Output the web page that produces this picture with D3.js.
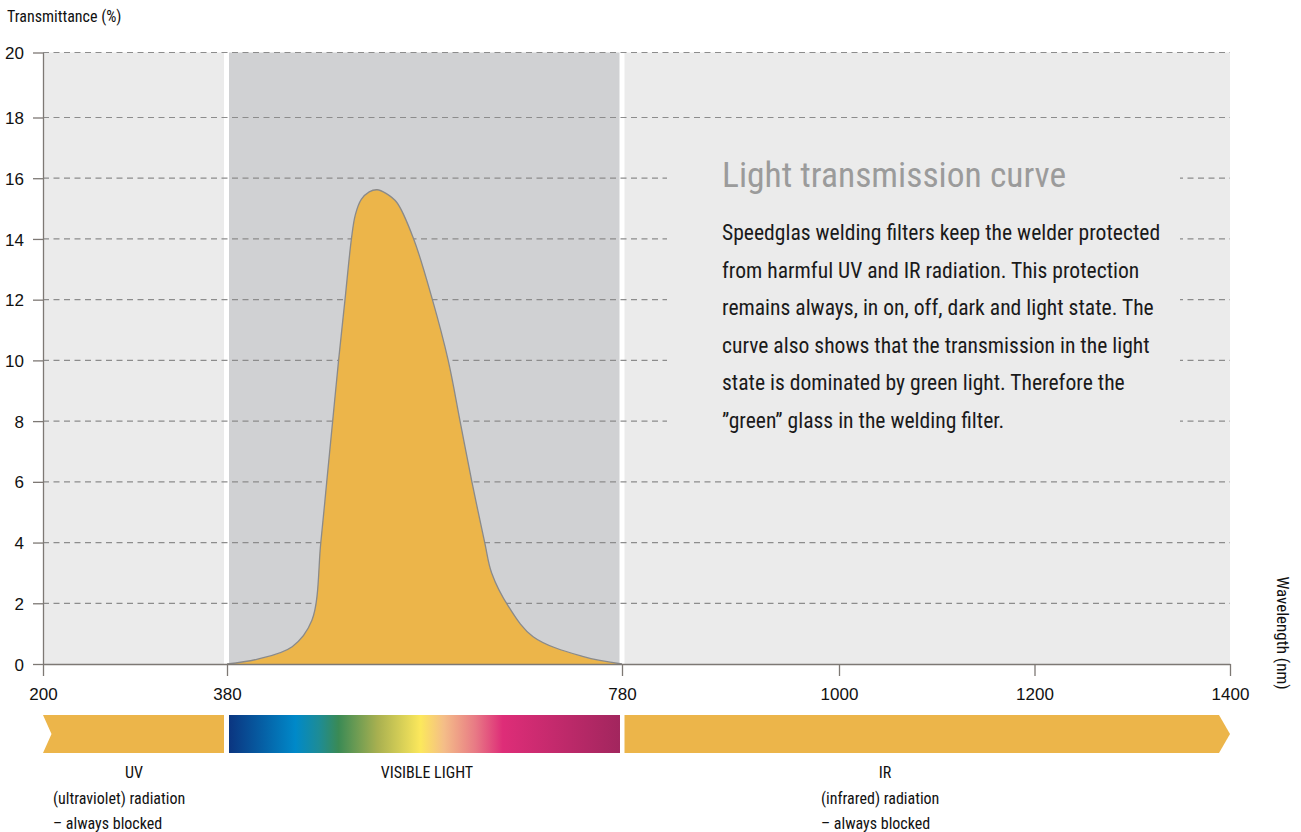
<!DOCTYPE html>
<html>
<head>
<meta charset="utf-8">
<script src="https://cdn.jsdelivr.net/npm/d3@7"></script>
<style>
  body { margin: 0; background: #fff; }
  svg { display: block; font-family: "Liberation Sans Narrow", "Roboto Condensed", "Arial Narrow", sans-serif; }
</style>
</head>
<body>
<svg id="chart" width="1301" height="832"></svg>
<script>
// data
const wavelengths = [380, 411, 446, 466, 475, 481, 487, 493, 499.5, 506, 510, 516, 524, 532, 541, 552, 569, 588, 604, 616, 628, 641, 648, 665, 690, 741, 780];
const transmittance = [0, 0.16, 0.57, 1.44, 4, 6, 8, 10, 12, 14, 14.8, 15.3, 15.55, 15.62, 15.5, 15.2, 14, 12, 10, 8, 6, 4, 3.0, 1.9, 0.9, 0.24, 0];
const xTicks = [200, 380, 780, 1000, 1200, 1400];
const yTicks = [0, 2, 4, 6, 8, 10, 12, 14, 16, 18, 20];
const bandNames = ["UV", "VISIBLE LIGHT", "IR"];
const bandNotes = [["(ultraviolet) radiation", "– always blocked"], [], ["(infrared) radiation", "– always blocked"]];
const spectrumStops = ["#0b3580", "#0089c9", "#1d8c96", "#3a8a55", "#a8b050", "#fce85c", "#f4bd88", "#e87a85", "#de2d78", "#a2265e"];
const spectrumOffsets = [0, 0.17, 0.23, 0.28, 0.38, 0.49, 0.55, 0.63, 0.70, 1];
const titleText = "Light transmission curve";
const bodyLines = [
  "Speedglas welding filters keep the welder protected",
  "from harmful UV and IR radiation. This protection",
  "remains always, in on, off, dark and light state. The",
  "curve also shows that the transmission in the light",
  "state is dominated by green light. Therefore the",
  "”green” glass in the welding filter."
];

const svg = d3.select("#chart");
const x = d3.scaleLinear().domain([200, 380, 780, 1000, 1400]).range([43, 227, 622, 839, 1230]);
const y = d3.scaleLinear().domain([0, 18, 20]).range([664, 117.5, 52.5]);

const light = "#ebebeb", mid = "#d0d1d3", gold = "#ecb54a";

//region backgrounds with white gaps at 380 and 780
svg.append("rect").attr("x", x(200)).attr("y", y(20)).attr("width", x(380) - 3 - x(200)).attr("height", y(0) - y(20)).attr("fill", light);
svg.append("rect").attr("x", x(380) + 2).attr("y", y(20)).attr("width", x(780) - 2.5 - x(380) - 2).attr("height", y(0) - y(20)).attr("fill", mid);
svg.append("rect").attr("x", x(780) + 2.5).attr("y", y(20)).attr("width", x(1400) - x(780) - 2.5).attr("height", y(0) - y(20)).attr("fill", light);

//dashed gridlines
svg.selectAll(".grid")
  .data(yTicks.filter(d => d > 0))
  .enter()
  .append("line")
  .attr("class", "grid")
  .attr("x1", x(200)).attr("x2", x(1400))
  .attr("y1", d => y(d)).attr("y2", d => y(d))
  .attr("stroke", "#8c8c8c")
  .attr("stroke-width", 1.2)
  .attr("stroke-dasharray", "6,4.5");

//transmission curve
const pts = wavelengths.map((w, i) => [w, transmittance[i]]);
const curve = d3.curveCatmullRom.alpha(0.5);
svg.append("path")
  .datum(pts)
  .attr("d", d3.area().x(d => x(d[0])).y0(y(0)).y1(d => y(d[1])).curve(curve))
  .attr("fill", gold);
svg.append("path")
  .datum(pts)
  .attr("d", d3.line().x(d => x(d[0])).y(d => y(d[1])).curve(curve))
  .attr("fill", "none")
  .attr("stroke", "#8a8a8a")
  .attr("stroke-width", 1.3);

//text box covering the gridlines
svg.append("rect").attr("x", 667).attr("y", 142).attr("width", 513).attr("height", 306).attr("fill", light);
svg.append("text")
  .attr("x", 722).attr("y", 187)
  .attr("font-size", 35.5)
  .attr("fill", "#9b9b9b")
  .text(titleText);
svg.selectAll(".body-line")
  .data(bodyLines)
  .enter()
  .append("text")
  .attr("class", "body-line")
  .attr("x", 722)
  .attr("y", (d, i) => 240 + i * 37.5)
  .attr("font-size", 21.6)
  .attr("fill", "#1a1a1a")
  .text(d => d);

//axes
const yAxis = svg.append("g")
  .attr("transform", `translate(${x(200)},0)`)
  .call(d3.axisLeft(y).tickValues(yTicks).tickSize(10).tickSizeOuter(0).tickPadding(9));
const xAxis = svg.append("g")
  .attr("transform", `translate(0,${y(0)})`)
  .call(d3.axisBottom(x).tickValues(xTicks).tickFormat(d3.format("d")).tickSize(12).tickSizeOuter(0).tickPadding(12));
[yAxis, xAxis].forEach(g => {
  g.select(".domain").attr("stroke", "#7d7874").attr("stroke-width", 1.3);
  g.selectAll(".tick line").attr("stroke", "#7d7874").attr("stroke-width", 1.3);
  g.selectAll("text").attr("font-size", 17).attr("fill", "#111").attr("font-family", null);
});
yAxis.selectAll("text").attr("dy", "0.36em");

svg.append("text").attr("x", 7).attr("y", 22).attr("font-size", 16).attr("fill", "#111").text("Transmittance (%)");
svg.append("text")
  .attr("transform", "translate(1277,633) rotate(90)")
  .attr("text-anchor", "middle")
  .attr("font-size", 17)
  .attr("fill", "#111")
  .text("Wavelength (nm)");

//spectrum bar
const grad = svg.append("defs").append("linearGradient").attr("id", "spectrum");
grad.selectAll("stop")
  .data(spectrumStops)
  .enter()
  .append("stop")
  .attr("offset", (d, i) => spectrumOffsets[i])
  .attr("stop-color", d => d);

const barTop = 715, barBot = 753, barMid = (barTop + barBot) / 2;
svg.append("path")
  .attr("d", `M${x(200)},${barTop}L${x(380) - 3},${barTop}L${x(380) - 3},${barBot}L${x(200)},${barBot}L${x(200) + 8.5},${barMid}Z`)
  .attr("fill", gold);
svg.append("rect")
  .attr("x", x(380) + 2).attr("y", barTop)
  .attr("width", x(780) - 2 - x(380) - 2).attr("height", barBot - barTop)
  .attr("fill", "url(#spectrum)");
svg.append("path")
  .attr("d", `M${x(780) + 2.5},${barTop}L${x(1400) - 11},${barTop}L${x(1400)},${barMid}L${x(1400) - 11},${barBot}L${x(780) + 2.5},${barBot}Z`)
  .attr("fill", gold);

//band labels
const nameX = [134, 427, 885];
const noteX = [53, null, 821];
bandNames.forEach((name, i) => {
  svg.append("text")
    .attr("x", nameX[i]).attr("y", 778)
    .attr("text-anchor", "middle")
    .attr("font-size", 16)
    .attr("fill", "#111")
    .text(name);
  bandNotes[i].forEach((line, j) => {
    svg.append("text")
      .attr("x", noteX[i]).attr("y", 804 + j * 24.5)
      .attr("font-size", 16)
      .attr("fill", "#111")
      .text(line);
  });
});
</script>
</body>
</html>
